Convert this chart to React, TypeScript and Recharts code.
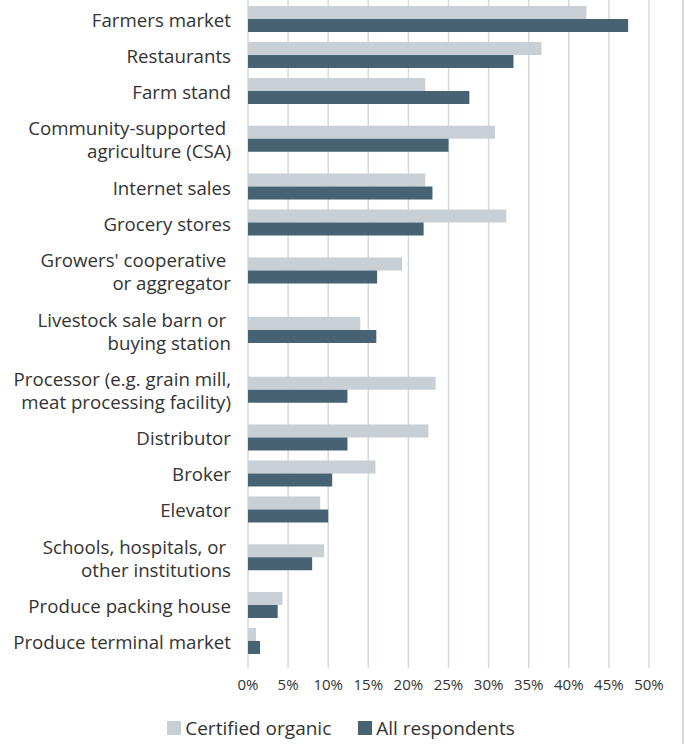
import React from "react";
import { BarChart, Bar, XAxis, YAxis, CartesianGrid, Legend } from "recharts";

// categories, top to bottom ("\n" = line break in the axis label)
const categories = [
  "Farmers market",
  "Restaurants",
  "Farm stand",
  "Community-supported \nagriculture (CSA)",
  "Internet sales",
  "Grocery stores",
  "Growers' cooperative \nor aggregator",
  "Livestock sale barn or \nbuying station",
  "Processor (e.g. grain mill,\nmeat processing facility)",
  "Distributor",
  "Broker",
  "Elevator",
  "Schools, hospitals, or \nother institutions",
  "Produce packing house",
  "Produce terminal market",
];

// percent of respondents
const certifiedOrganic = [42.2, 36.6, 22.1, 30.8, 22.1, 32.2, 19.2, 14.0, 23.4, 22.5, 15.9, 9.0, 9.5, 4.3, 1.0];
const allRespondents = [47.4, 33.1, 27.6, 25.0, 23.0, 21.9, 16.1, 16.0, 12.4, 12.4, 10.5, 10.0, 8.0, 3.7, 1.5];

const xTicks = [0, 5, 10, 15, 20, 25, 30, 35, 40, 45, 50];

const series = [
  { key: "organic", name: "Certified organic", color: "#c8d0d5" },
  { key: "all", name: "All respondents", color: "#466273" },
];

const FONT = "'Open Sans', sans-serif";
const TEXT = "#333333";
const GRID = "#d3dadd";
const LINE_H = 23;
const ROW_H = 35;

// each category row grows with the number of lines in its label
const lineCounts = categories.map((c) => c.split("\n").length);
const rowSizes = lineCounts.map((n) => ROW_H + LINE_H * (n - 1));
const rowCenters = rowSizes.map(
  (s, i) => rowSizes.slice(0, i).reduce((a, b) => a + b, 0) + s / 2
);
const rowTotal = rowSizes.reduce((a, b) => a + b, 0);

const data = categories.map((name, i) => ({
  name,
  row: rowCenters[i],
  organic: certifiedOrganic[i],
  all: allRespondents[i],
}));

function CategoryTick(props: any) {
  const { x, y, index } = props;
  const lines = categories[index].split("\n");
  const start = y - ((lines.length - 1) * LINE_H) / 2;
  return (
    <text
      x={x}
      y={start}
      textAnchor="end"
      dominantBaseline="central"
      fontFamily={FONT}
      fontSize={18.7}
      fill={TEXT}
      style={{ whiteSpace: "pre" }}
    >
      {lines.map((l, i) => (
        <tspan key={i} x={x} y={start + i * LINE_H}>
          {l}
        </tspan>
      ))}
    </text>
  );
}

function LegendBox() {
  return (
    <div
      style={{
        height: 36,
        display: "flex",
        justifyContent: "center",
        alignItems: "center",
        gap: 27,
        fontFamily: FONT,
        fontSize: 19,
        color: TEXT,
        position: "relative",
        top: 2,
      }}
    >
      {series.map((s) => (
        <div key={s.key} style={{ display: "flex", alignItems: "center", gap: 4 }}>
          <span style={{ width: 14, height: 14, background: s.color, display: "inline-block" }} />
          <span>{s.name}</span>
        </div>
      ))}
    </div>
  );
}

export default function App() {
  return (
    <div
      style={{
        position: "absolute",
        top: 0,
        left: 0,
        width: 682,
        height: 744,
        borderRight: `2px solid ${GRID}`,
        background: "#fff",
      }}
    >
      <BarChart
        width={682}
        height={744}
        data={data}
        layout="vertical"
        margin={{ top: 0, right: 33, bottom: 0, left: 0 }}
        barGap={0}
      >
        <CartesianGrid horizontal={false} stroke={GRID} strokeWidth={1.5} />
        <XAxis
          type="number"
          domain={[0, 50]}
          ticks={xTicks}
          interval={0}
          tickFormatter={(v) => `${v}%`}
          axisLine={false}
          tickLine={false}
          tickMargin={5}
          height={40}
          tick={{ fontFamily: FONT, fontSize: 15, fill: TEXT }}
        />
        <YAxis
          type="number"
          dataKey="row"
          domain={[0, rowTotal]}
          ticks={rowCenters}
          padding={{ top: 1, bottom: 9 }}
          width={248}
          axisLine={false}
          tickLine={false}
          tickMargin={11}
          interval={0}
          tick={<CategoryTick />}
        />
        <Legend
          verticalAlign="bottom"
          height={36}
          width={682}
          wrapperStyle={{ left: 0 }}
          content={() => <LegendBox />}
        />
        {series.map((s) => (
          <Bar
            key={s.key}
            dataKey={s.key}
            name={s.name}
            fill={s.color}
            barSize={13}
            isAnimationActive={false}
          />
        ))}
      </BarChart>
    </div>
  );
}
